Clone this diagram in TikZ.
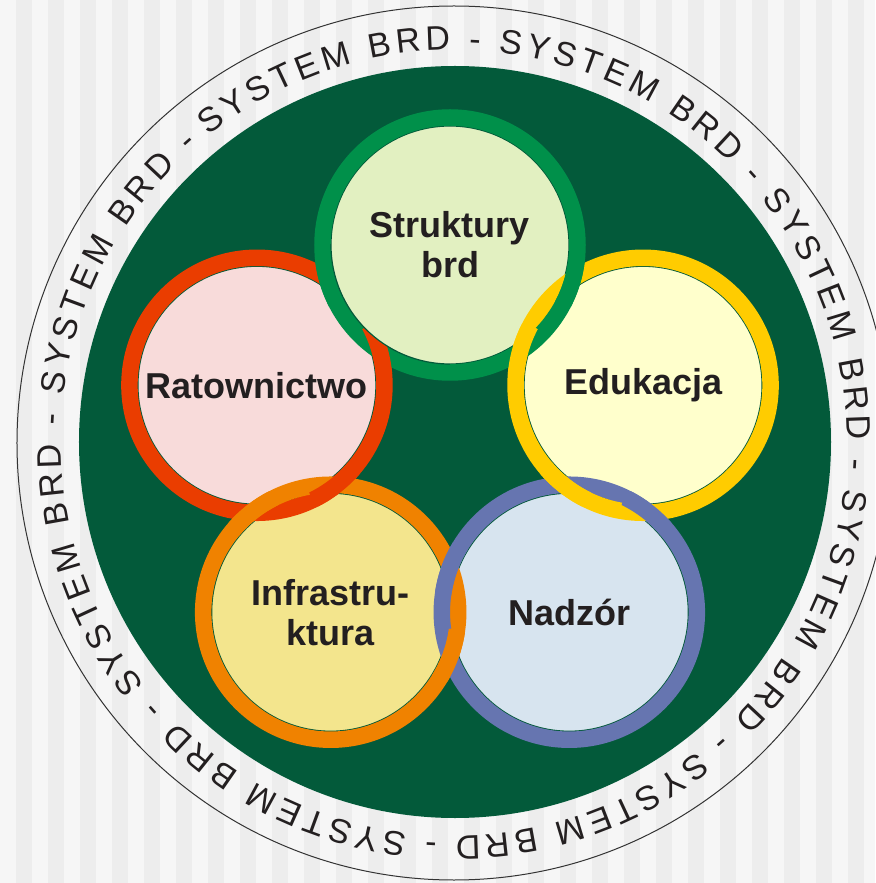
\documentclass[tikz,border=0pt]{standalone}
\usepackage{fontspec}
\setmainfont{Liberation Sans}
\usetikzlibrary{decorations.text}

\definecolor{bgdark}{HTML}{EDEDED}
\definecolor{bglight}{HTML}{F6F6F6}
\definecolor{dkgreen}{HTML}{035A3A}
\definecolor{txtgray}{HTML}{231F20}
\definecolor{strukring}{HTML}{00904A}
\definecolor{strukfill}{HTML}{E2F0C1}
\definecolor{ratring}{HTML}{EA3D00}
\definecolor{ratfill}{HTML}{F8DBDA}
\definecolor{edring}{HTML}{FFCC00}
\definecolor{edfill}{HTML}{FFFFCC}
\definecolor{infring}{HTML}{F08200}
\definecolor{inffill}{HTML}{F3E58D}
\definecolor{nadring}{HTML}{6675B0}
\definecolor{nadfill}{HTML}{D7E4EF}

\newcommand\ringfont{\fontsize{34}{40}\selectfont\color{txtgray}}

\begin{document}
\begin{tikzpicture}[x=1pt, y=1pt,
  bubble/.style={circle, minimum size=238pt, inner sep=0pt, align=center,
    font=\bfseries\fontsize{36}{40}\selectfont, text=txtgray,
    draw=dkgreen, line width=1.2pt},
  ring/.style={line width=16.5pt, draw=#1}]

\useasboundingbox (-454,-440) rectangle (421,443);
% striped background
\fill[bglight] (-454,-440) rectangle (421,443);
\foreach \i in {0,...,27}
  \fill[bgdark] ({-438+32*\i},-440) rectangle +(16,883);

% outer ring with text
\draw[line width=1pt, draw=black!80] (0,0) circle (437);
\path[decorate, decoration={text along path, text align={fit to path},
  text={|\ringfont|SYSTEM BRD - SYSTEM BRD - SYSTEM BRD - SYSTEM BRD - SYSTEM BRD - SYSTEM BRD - SYSTEM BRD - SYSTEM BRD -}}]
  (128.6:393) arc[start angle=128.6, end angle=-229.3, radius=393];

% green disc
\fill[dkgreen] (1,1) circle (376);

\begin{scope}[shift={(-4,-5)}]
\node[bubble, fill=strukfill] (struk) at (90:203) {Struktury\\brd};
\node[bubble, fill=ratfill] (rat) at (162:203) {Ratownictwo};
\node[bubble, fill=inffill] (infra) at (234:203) {Infrastru-\\ktura};
\node[bubble, fill=nadfill] (nadz) at (306:203) {Nadzór};
\node[bubble, fill=edfill] (eduk) at (18:203) {Edukacja};

% rings
\foreach \n/\c in {rat/ratring, infra/infring, nadz/nadring, eduk/edring, struk/strukring}
  \draw[ring=\c] (\n.center) circle (127.5);

% crossings, ring that lies on top
\foreach \a/\r/\n/\c in {126/207.7/struk/strukring, 126/120.7/rat/ratring,
    54/207.7/struk/strukring, 54/120.7/eduk/edring,
    342/207.7/nadz/nadring, 342/120.7/eduk/edring,
    270/120.7/nadz/nadring, 270/207.7/infra/infring,
    198/120.7/rat/ratring, 198/207.7/infra/infring}
{
  \begin{scope}
    \clip (\a:\r) circle (27);
    \draw[ring=\c] (\n.center) circle (127.5);
  \end{scope}
}

% Struktury hides the red ring inside it
\begin{scope}
  \clip (-300,-100) rectangle (struk.center);
  \fill[strukfill, even odd rule] (struk.center) circle (119) circle (95);
  \draw[dkgreen, line width=1.2pt] (struk.center) circle (119);
\end{scope}
\end{scope}
\end{tikzpicture}
\end{document}
